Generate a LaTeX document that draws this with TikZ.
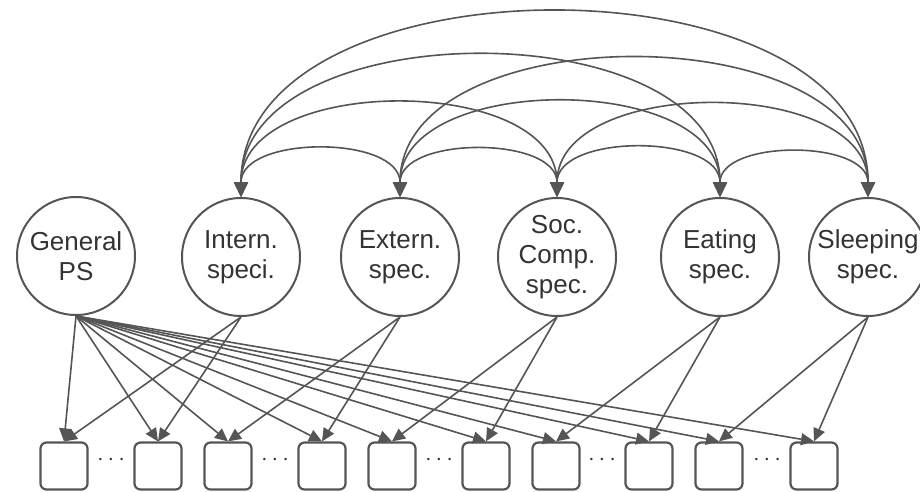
\documentclass[tikz,border=0pt]{standalone}
\usepackage{fontspec}
\setmainfont{Liberation Sans}
\usetikzlibrary{arrows.meta}
\definecolor{lc}{HTML}{555555}
\definecolor{tc}{HTML}{333333}

\begin{document}
\begin{tikzpicture}[x=0.5pt,y=-0.5pt]
    \tikzstyle{factor}=[circle,draw=lc,line width=1pt,fill=white,minimum size=59pt,inner sep=0pt,align=center,text=tc,font=\fontsize{13}{15}\selectfont]
    \tikzstyle{item}=[rectangle,rounded corners=3pt,draw=lc,line width=1.1pt,minimum size=23.5pt,inner sep=0pt]
    \tikzstyle{link}=[-{Triangle[length=6.5pt,width=6pt]},draw=lc,line width=0.8pt]
    \tikzstyle{corr}=[{Triangle[length=7.5pt,width=7pt]}-{Triangle[length=7.5pt,width=7pt]},draw=lc,line width=0.8pt]
    \useasboundingbox (0,0) rectangle (920,492);

    \node[factor] (F-0) at (76,256) {General\\PS};
    \foreach \num/\x/\txt in {1/241/{Intern.\\speci.}, 2/400/{Extern.\\spec.}, 3/557/{Soc.\\Comp.\\spec.}, 4/720/{Eating\\spec.}, 5/868/{Sleeping\\spec.}}
            \node[factor] (F-\num) at (\x,257) {\txt};

    \foreach \num/\x in {1/64, 2/158, 3/228, 4/322, 5/392, 6/486, 7/556, 8/649, 9/719, 10/814}
            \node[item] (I-\num) at (\x,466) {};

    \foreach \num/\x in {1/111, 2/275, 3/439, 4/602, 5/767}
            \node[text=tc,inner sep=0pt,font=\fontsize{13}{15}\selectfont] (D-\num) at (\x,460) {$\cdots$};

        % general factor loads on every item
        \foreach \to in {1,...,10}
            \draw[link] (F-0.south) -- (I-\to.north);

        % specific factors load on their own items
        \foreach \from/\a/\b in {1/1/2, 2/3/4, 3/5/6, 4/7/8, 5/9/10}
        {
            \draw[link] (F-\from.south) -- (I-\a.north);
            \draw[link] (F-\from.south) -- (I-\b.north);
        }

        % correlations between the specific factors
        \foreach \from/\to in {1/2, 2/3, 3/4, 4/5, 1/3, 2/4, 3/5, 1/4, 2/5, 1/5}
            \draw[corr] (F-\from.north) to[out=90,in=90] (F-\to.north);
\end{tikzpicture}
\end{document}
